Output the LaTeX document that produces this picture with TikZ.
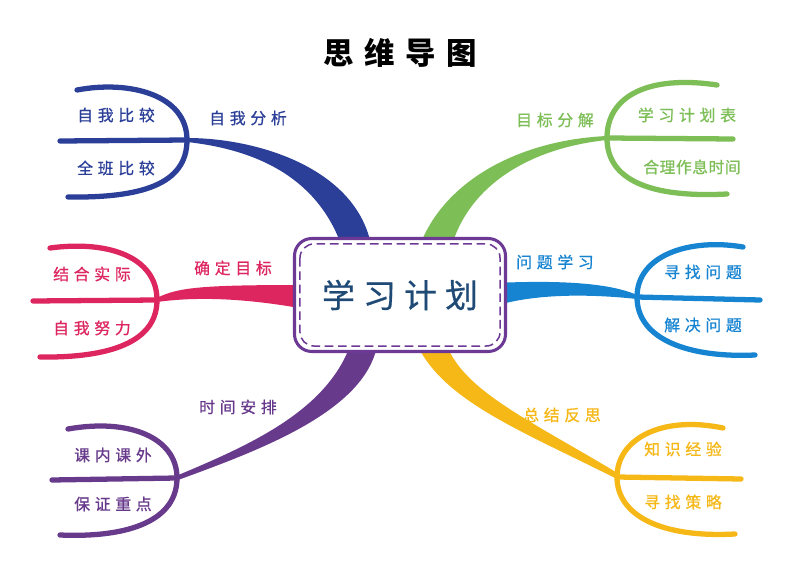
\documentclass[tikz,border=0pt]{standalone}
\usepackage{fontspec}
\newfontfamily\cjk[LetterSpace=30,FakeBold=0.8]{Noto Sans CJK SC}
\newfontfamily\cjktight[LetterSpace=3,FakeBold=0.8]{Noto Sans CJK SC}
\newfontfamily\cjkmain[LetterSpace=25,FakeBold=0.6]{Noto Sans CJK SC}
\newfontfamily\cjktitle[LetterSpace=35]{Noto Sans CJK SC}
\usetikzlibrary{calc}

\definecolor{cfenxi}{RGB}{43,63,152}
\definecolor{cmubiao}{RGB}{221,37,96}
\definecolor{cshijian}{RGB}{104,58,140}
\definecolor{cfenjie}{RGB}{125,190,87}
\definecolor{cwenti}{RGB}{23,132,210}
\definecolor{cfansi}{RGB}{246,184,23}
\definecolor{cbox}{RGB}{108,58,148}
\definecolor{cplan}{RGB}{31,74,118}

\tikzset{
  lab/.style={inner sep=0pt, font={\cjk\fontsize{13.5}{16}\selectfont}},
  arm/.style={line width=4.5pt, line cap=round},
}

\begin{document}
\begin{tikzpicture}[x=0.03cm, y=-0.03cm]
    \fill[white] (0,0) rectangle (800,566);
    \useasboundingbox (0,0) rectangle (800,566);

    \node (title) at (400,53) {\cjktitle\bfseries\fontsize{26}{30}\selectfont 思维导图};

    % fork points
    \coordinate (fenxi) at (187,140);
    \coordinate (mubiao) at (157,300);
    \coordinate (shijian) at (177,478);
    \coordinate (fenjie) at (607,138);
    \coordinate (wenti) at (637,297);
    \coordinate (fansi) at (617,477);

    % main branches
    \fill[cfenxi] ($(fenxi)+(0,-2)$) .. controls (260,138) and (360,170) .. (372,250)
        -- (343,250) .. controls (320,180) and (260,150) .. ($(fenxi)+(0,2)$) -- cycle;
    \fill[cmubiao] ($(mubiao)+(0,-2)$) .. controls (178,287) and (205,285) .. (305,285)
        -- (305,309) .. controls (250,299) and (200,296) .. ($(mubiao)+(0,2)$) -- cycle;
    \fill[cshijian] ($(shijian)+(1,2)$) .. controls (260,450) and (370,410) .. (378,340)
        -- (352,340) .. controls (330,410) and (250,445) .. ($(shijian)+(-1,-2)$) -- cycle;
    \fill[cfenjie] (420,245) .. controls (445,180) and (520,140) .. ($(fenjie)+(0,-2)$)
        -- ($(fenjie)+(0,2)$) .. controls (530,148) and (470,185) .. (452,245) -- cycle;
    \fill[cwenti] (495,283) .. controls (560,280) and (610,283) .. ($(wenti)+(0,-2)$)
        -- ($(wenti)+(0,2)$) .. controls (600,295) and (540,292) .. (495,306) -- cycle;
    \fill[cfansi] (415,340) .. controls (440,400) and (520,430) .. ($(fansi)+(0,2)$)
        -- ($(fansi)+(2,-3)$) .. controls (530,420) and (460,390) .. (445,340) -- cycle;

    % forks
    \draw[arm, cfenxi] (77,90) .. controls (130,80) and (187,95) .. (fenxi)
        .. controls (187,185) and (140,198) .. (68,197);
    \draw[arm, cfenxi] (fenxi) -- (60,141);
    \draw[arm, cmubiao] (50,248) .. controls (110,240) and (157,258) .. (mubiao)
        .. controls (157,342) and (110,358) .. (40,357);
    \draw[arm, cmubiao] (mubiao) -- (33,301);
    \draw[arm, cshijian] (68,429) .. controls (130,418) and (177,438) .. (shijian)
        .. controls (177,520) and (130,538) .. (60,535);
    \draw[arm, cshijian] (shijian) -- (52,480);
    \draw[arm, cfenjie] (717,85) .. controls (650,75) and (607,95) .. (fenjie)
        .. controls (607,180) and (650,198) .. (727,194);
    \draw[arm, cfenjie] (fenjie) -- (733,139);
    \draw[arm, cwenti] (743,247) .. controls (690,238) and (637,255) .. (wenti)
        .. controls (637,340) and (690,358) .. (755,355);
    \draw[arm, cwenti] (wenti) -- (760,300);
    \draw[arm, cfansi] (723,428) .. controls (660,415) and (617,440) .. (fansi)
        .. controls (617,515) and (660,538) .. (735,534);
    \draw[arm, cfansi] (fansi) -- (741,479);

    % center
    \node[draw=cbox, fill=white, line width=2.6pt, rounded corners=0.52cm,
          minimum width=6.33cm, minimum height=3.39cm, text=cplan] (plan) at (400,295)
          {\cjkmain\fontsize{28}{32}\selectfont 学习计划};
    \draw[cbox, line width=1.3pt, dash pattern=on 2.6mm off 1.4mm, rounded corners=0.42cm]
        ($(plan.north west)+(7,7)$) rectangle ($(plan.south east)+(-7,-7)$);

    % labels
    \node[lab, text=cfenxi] (l1) at (248,118) {自我分析};
    \node[lab, text=cfenxi] (l11) at (116,115) {自我比较};
    \node[lab, text=cfenxi] (l12) at (116,168) {全班比较};
    \node[lab, text=cmubiao] (l2) at (233,268) {确定目标};
    \node[lab, text=cmubiao] (l21) at (92,274) {结合实际};
    \node[lab, text=cmubiao] (l22) at (92,328) {自我努力};
    \node[lab, text=cshijian] (l3) at (238,407) {时间安排};
    \node[lab, text=cshijian] (l31) at (113,455) {课内课外};
    \node[lab, text=cshijian] (l32) at (113,504) {保证重点};
    \node[lab, text=cfenjie] (l4) at (555,120) {目标分解};
    \node[lab, text=cfenjie] (l41) at (687,115) {学习计划表};
    \node[lab, text=cfenjie, font={\cjktight\fontsize{13.5}{16}\selectfont}] (l42) at (692,167) {合理作息时间};
    \node[lab, text=cwenti] (l5) at (555,262) {问题学习};
    \node[lab, text=cwenti] (l51) at (703,272) {寻找问题};
    \node[lab, text=cwenti] (l52) at (703,325) {解决问题};
    \node[lab, text=cfansi] (l6) at (562,415) {总结反思};
    \node[lab, text=cfansi] (l61) at (683,449) {知识经验};
    \node[lab, text=cfansi] (l62) at (683,502) {寻找策略};
\end{tikzpicture}
\end{document}
